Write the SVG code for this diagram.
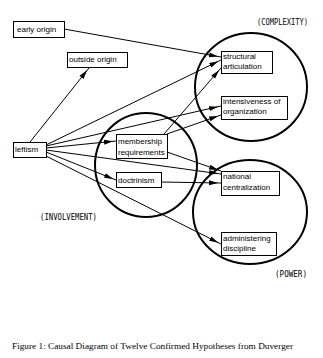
<svg xmlns="http://www.w3.org/2000/svg" width="323" height="358" viewBox="0 0 323 358">
<style>
.box{fill:#fff;stroke:#000;stroke-width:1}
.t{font-family:"Liberation Sans",Arial,sans-serif;font-size:8px;fill:#000}
.lab{font-family:"DejaVu Sans Mono","Liberation Mono",monospace;font-size:8px;fill:#000}
.cap{font-family:"Liberation Serif","Times New Roman",serif;font-size:9px;fill:#000}
.c{fill:none;stroke:#000;stroke-width:2}
.e{fill:none;stroke:#000;stroke-width:1;marker-end:url(#ah)}
</style>
<defs>
<marker id="ah" markerUnits="userSpaceOnUse" markerWidth="14" markerHeight="8" refX="12" refY="3" orient="auto" viewBox="0 0 14 6">
<path d="M0,0.5 L9,3 L0,5.5 Z" fill="#000"/>
</marker>
</defs>
<rect width="323" height="358" fill="#fff"/>
<g id="circles">
<ellipse class="c" cx="251" cy="87" rx="56" ry="54"/>
<ellipse class="c" cx="250" cy="212" rx="57" ry="52"/>
<ellipse class="c" cx="146" cy="165" rx="51" ry="52"/>
</g>
<g id="connectors">
<line class="e" x1="64" y1="29" x2="221" y2="57"/>
<line class="e" x1="30" y1="142" x2="89" y2="68"/>
<line class="e" x1="46" y1="145" x2="221" y2="60"/>
<line class="e" x1="46" y1="146" x2="221" y2="106"/>
<line class="e" x1="46" y1="148" x2="116" y2="141"/>
<line class="e" x1="46" y1="150" x2="221" y2="174"/>
<line class="e" x1="46" y1="152" x2="116" y2="180"/>
<line class="e" x1="46" y1="156" x2="221" y2="244"/>
<line class="e" x1="164" y1="134" x2="221" y2="68"/>
<line class="e" x1="167" y1="134" x2="221" y2="115"/>
<line class="e" x1="167" y1="152" x2="221" y2="171"/>
<line class="e" x1="161" y1="182" x2="221" y2="183"/>
</g>
<g id="early-origin"><rect class="box" x="13.5" y="21.5" width="51" height="16"/><text class="t" x="17" y="32">early origin</text></g>
<g id="outside-origin"><rect class="box" x="67.5" y="52.5" width="60" height="15"/><text class="t" x="69" y="62">outside origin</text></g>
<g id="leftism"><rect class="box" x="13.5" y="142.5" width="33" height="15"/><text class="t" x="15" y="152">leftism</text></g>
<g id="membership-requirements"><rect class="box" x="116.5" y="134.5" width="51" height="24"/><text class="t" x="118" y="144">membership</text><text class="t" x="118" y="155">requirements</text></g>
<g id="doctrinism"><rect class="box" x="116.5" y="172.5" width="45" height="15"/><text class="t" x="118" y="183">doctrinism</text></g>
<g id="structural-articulation"><rect class="box" x="221.5" y="51.5" width="51" height="22"/><text class="t" x="223" y="59">structural</text><text class="t" x="223" y="69">articulation</text></g>
<g id="intensiveness-of-organization"><rect class="box" x="221.5" y="96.5" width="66" height="23"/><text class="t" x="223" y="104">intensiveness of</text><text class="t" x="223" y="114">organization</text></g>
<g id="national-centralization"><rect class="box" x="221.5" y="171.5" width="58" height="24"/><text class="t" x="223" y="179">national</text><text class="t" x="223" y="190">centralization</text></g>
<g id="administering-discipline"><rect class="box" x="221.5" y="232.5" width="55" height="23"/><text class="t" x="223" y="241">administering</text><text class="t" x="223" y="251">discipline</text></g>
<g id="labels">
<text class="lab" x="257" y="25" textLength="51" lengthAdjust="spacingAndGlyphs">(COMPLEXITY)</text>
<text class="lab" x="40" y="220" textLength="57" lengthAdjust="spacingAndGlyphs">(INVOLVEMENT)</text>
<text class="lab" x="275" y="277" textLength="32" lengthAdjust="spacingAndGlyphs">(POWER)</text>
<text class="cap" x="12" y="349" textLength="281" lengthAdjust="spacingAndGlyphs">Figure 1:  Causal Diagram of Twelve Confirmed Hypotheses from Duverger</text>
</g>
</svg>
